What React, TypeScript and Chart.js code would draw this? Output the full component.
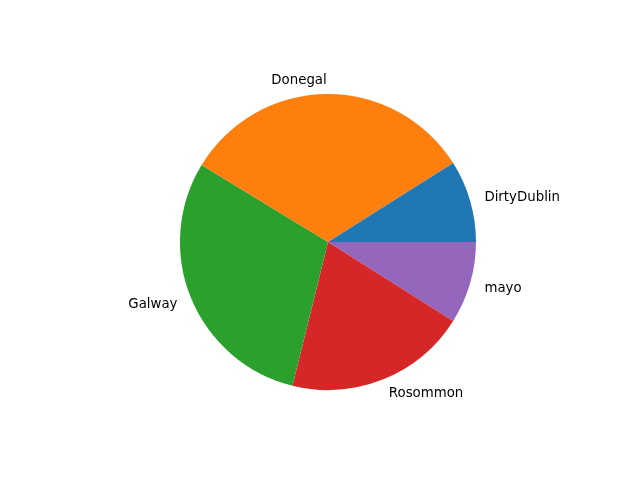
import React, { useEffect, useRef } from "react";
import { Chart, registerables } from "chart.js";

Chart.register(...registerables);

// Order as in the source (counter-clockwise from east)
const categories = ["DirtyDublin", "Donegal", "Galway", "Rosommon", "mayo"];
const values = [9, 32.5, 30, 20, 9];
const colors = ["#1f77b4", "#ff7f0e", "#2ca02c", "#d62728", "#9467bd"];

const labelPlugin = {
  id: "outerLabels",
  afterDatasetsDraw(chart: any) {
    const ctx = chart.ctx;
    const meta = chart.getDatasetMeta(0);
    const labels = chart.data.labels as string[];
    ctx.save();
    ctx.font = '13.33px "DejaVu Sans"';
    ctx.fillStyle = "#000";
    ctx.textBaseline = "middle";
    meta.data.forEach((arc: any, i: number) => {
      const p = arc.getProps(["x", "y", "startAngle", "endAngle", "outerRadius"], true);
      const mid = (p.startAngle + p.endAngle) / 2;
      const c = Math.cos(mid);
      const s = Math.sin(mid);
      const tx = p.x + 1.1 * p.outerRadius * c;
      const ty = p.y + 1.1 * p.outerRadius * s + 1;
      ctx.textAlign = c > 0 ? "left" : "right";
      ctx.fillText(labels[i], tx, ty);
    });
    ctx.restore();
  },
};

export default function App() {
  const ref = useRef<HTMLCanvasElement>(null);
  useEffect(() => {
    if (!ref.current) return;
    // Chart.js draws clockwise; reverse to mimic counter-clockwise order from east
    const labs = [...categories].reverse();
    const vals = [...values].reverse();
    const cols = [...colors].reverse();
    const chart = new Chart(ref.current, {
      type: "pie",
      data: {
        labels: labs,
        datasets: [
          {
            data: vals,
            backgroundColor: cols,
            borderWidth: 0,
            hoverOffset: 0,
          },
        ],
      },
      options: {
        responsive: false,
        animation: false,
        rotation: 90,
        layout: { padding: { left: 180, right: 164, top: 94, bottom: 90 } },
        plugins: {
          legend: { display: false },
          tooltip: { enabled: false },
        },
      },
      plugins: [labelPlugin],
    });
    return () => chart.destroy();
  }, []);
  return (
    <div style={{ position: "absolute", left: 0, top: 0, width: 640, height: 480, background: "#fff" }}>
      <canvas ref={ref} width={640} height={480} />
    </div>
  );
}
